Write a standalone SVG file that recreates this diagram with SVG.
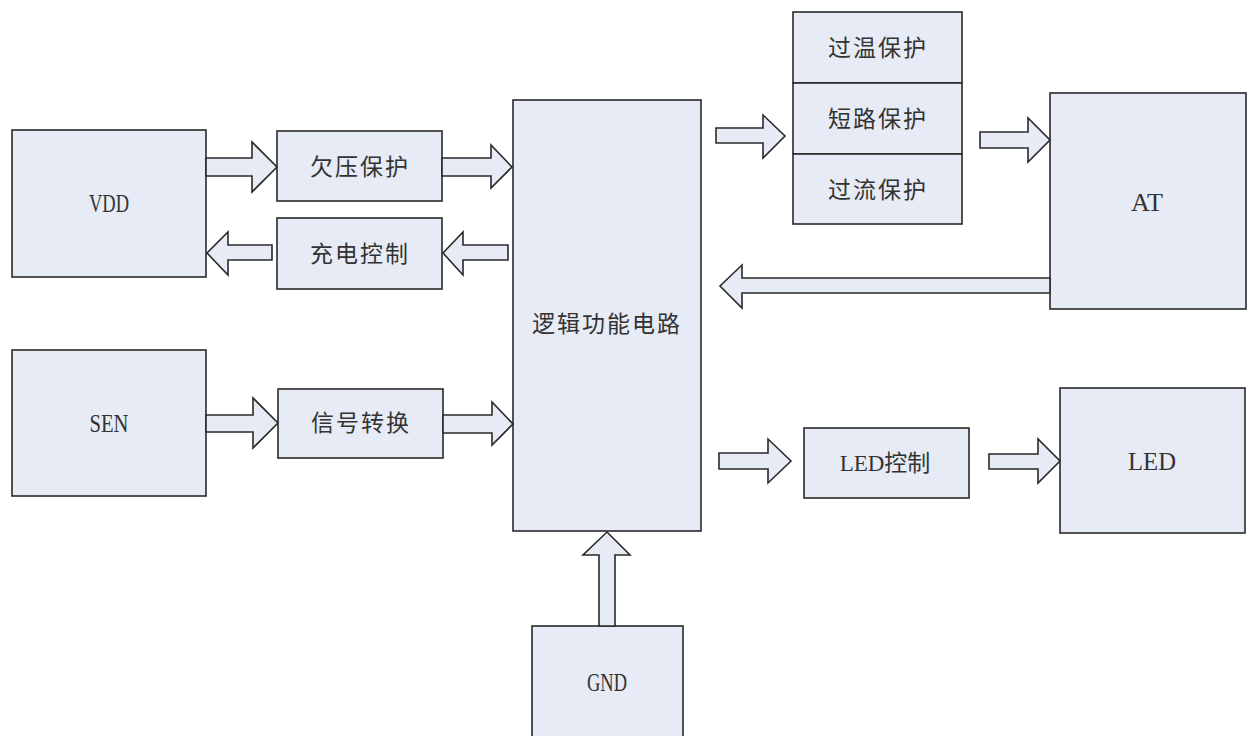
<svg xmlns="http://www.w3.org/2000/svg" width="1247" height="736" viewBox="0 0 1247 736">
<style>
.box{fill:#e6ebf5;stroke:#2a2a2a;stroke-width:1.6}
.arr{fill:#e6ebf5;stroke:#2a2a2a;stroke-width:1.6;stroke-linejoin:miter}
.cn{font-family:"Noto Sans CJK SC","Liberation Serif",sans-serif;font-size:23px;fill:#333;text-anchor:middle;letter-spacing:2px}
.lt{font-family:"Liberation Serif","Noto Sans CJK SC",serif;font-size:26px;fill:#333;text-anchor:middle}
</style>
<rect width="1247" height="736" fill="#ffffff"/>
<g id="VDD"><rect class="box" x="12" y="130" width="194" height="147"/><text class="lt" x="109" y="212" textLength="40" lengthAdjust="spacingAndGlyphs">VDD</text></g>
<g id="qianya"><rect class="box" x="277" y="131" width="165" height="70"/><text class="cn" x="360" y="175">欠压保护</text></g>
<g id="chongdian"><rect class="box" x="277" y="218" width="165" height="71"/><text class="cn" x="360" y="262">充电控制</text></g>
<g id="SEN"><rect class="box" x="12" y="350" width="194" height="146"/><text class="lt" x="109" y="432" textLength="39" lengthAdjust="spacingAndGlyphs">SEN</text></g>
<g id="xinhao"><rect class="box" x="278" y="389" width="165" height="69"/><text class="cn" x="361" y="431">信号转换</text></g>
<g id="logic"><rect class="box" x="513" y="100" width="188" height="431"/><text class="cn" x="607" y="332">逻辑功能电路</text></g>
<g id="protect">
<rect class="box" x="793" y="12" width="169" height="71"/><text class="cn" x="878" y="56">过温保护</text>
<rect class="box" x="793" y="83" width="169" height="71"/><text class="cn" x="878" y="127">短路保护</text>
<rect class="box" x="793" y="154" width="169" height="70"/><text class="cn" x="878" y="198">过流保护</text>
</g>
<g id="AT"><rect class="box" x="1050" y="93" width="196" height="216"/><text class="lt" x="1147" y="211" textLength="32" lengthAdjust="spacingAndGlyphs">AT</text></g>
<g id="ledctrl"><rect class="box" x="804" y="428" width="165" height="70"/><text class="lt" x="885" y="471" style="font-size:23px">LED控制</text></g>
<g id="LED"><rect class="box" x="1060" y="388" width="185" height="145"/><text class="lt" x="1152" y="470" textLength="48" lengthAdjust="spacingAndGlyphs">LED</text></g>
<g id="GND"><rect class="box" x="532" y="626" width="151" height="130"/><text class="lt" x="607" y="691" textLength="40" lengthAdjust="spacingAndGlyphs">GND</text></g>
<g id="connectors">
<polygon class="arr" points="206,158 252,158 252,142 277,167 252,192 252,176 206,176"/>
<polygon class="arr" points="442,158 491,158 491,145 512,167 491,188 491,176 442,176"/>
<polygon class="arr" points="508,245 463,245 463,232 443,253 463,275 463,260 508,260"/>
<polygon class="arr" points="272,245 228,245 228,232 207,253 228,275 228,260 272,260"/>
<polygon class="arr" points="206,415 253,415 253,398 278,423 253,448 253,432 206,432"/>
<polygon class="arr" points="443,415 492,415 492,402 513,424 492,445 492,433 443,433"/>
<polygon class="arr" points="716,128 763,128 763,115 785,136 763,158 763,143 716,143"/>
<polygon class="arr" points="980,132 1028,132 1028,118 1050,140 1028,162 1028,148 980,148"/>
<polygon class="arr" points="1050,278 742,278 742,265 720,286 742,308 742,293 1050,293"/>
<polygon class="arr" points="719,453 768,453 768,439 791,461 768,483 768,469 719,469"/>
<polygon class="arr" points="989,454 1038,454 1038,439 1060,461 1038,483 1038,469 989,469"/>
<polygon class="arr" points="599,626 599,555 583,555 607,532 630,555 615,555 615,626"/>
</g>
</svg>
